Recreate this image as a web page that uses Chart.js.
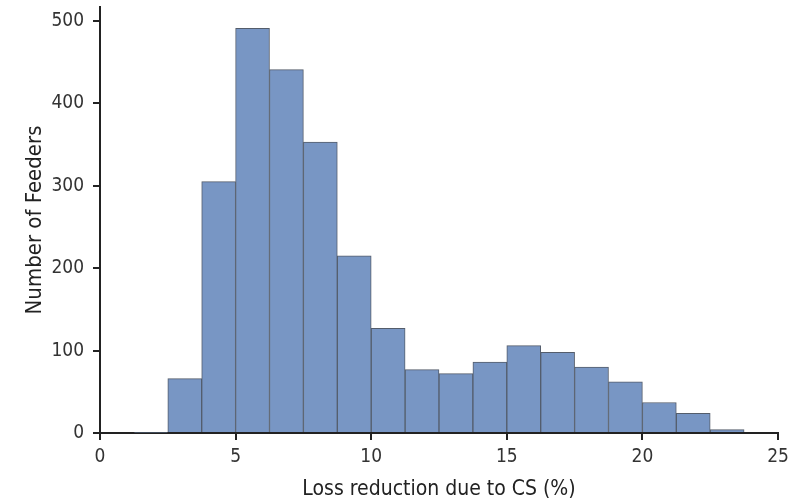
<!DOCTYPE html>
<html>
<head>
<meta charset="utf-8">
<script src="https://cdn.jsdelivr.net/npm/chart.js@4"></script>
<style>
  html, body { margin: 0; padding: 0; background: #fff; }
  #wrap { width: 797px; height: 504px; }
</style>
</head>
<body>
<div id="wrap"><canvas id="grafico"></canvas></div>
<script>
// bin centers (width 1.25) and counts
const binCenters = [1.875, 3.125, 4.375, 5.625, 6.875, 8.125, 9.375, 10.625, 11.875,
    13.125, 14.375, 15.625, 16.875, 18.125, 19.375, 20.625, 21.875, 23.125];
const counts = [1, 66, 305, 491, 441, 353, 215, 127, 77, 72, 86, 106, 98, 80, 62, 37, 24, 4];
const xTicks = [0, 5, 10, 15, 20, 25];
const yTicks = [0, 100, 200, 300, 400, 500];

const fuente = "'DejaVu Sans Condensed', 'DejaVu Sans', sans-serif";

document.addEventListener("DOMContentLoaded", () => {
    const ctx = document.getElementById("grafico").getContext("2d");

    new Chart(ctx, {
        type: "bar",
        data: {
            datasets: [{
                label: "Feeders",
                data: binCenters.map((c, i) => ({ x: c, y: counts[i] })),
                backgroundColor: "#7896c4",
                borderColor: "#545d6b",
                borderWidth: 1,
                barPercentage: 1,
                categoryPercentage: 1
            }]
        },
        options: {
            responsive: true,
            maintainAspectRatio: false,
            animation: false,
            layout: { padding: { top: 7, right: 19, left: 22, bottom: 0 } },
            plugins: {
                legend: { display: false },
                tooltip: { enabled: false }
            },
            scales: {
                x: {
                    type: "linear",
                    min: 0,
                    max: 25,
                    offset: false,
                    afterBuildTicks: s => { s.ticks = xTicks.map(v => ({ value: v })); },
                    afterFit: s => { s.height = 71; },
                    grid: { offset: false, drawOnChartArea: false, drawTicks: true, tickLength: 7, tickColor: "#222", lineWidth: 2 },
                    border: { display: true, color: "#222", width: 2 },
                    ticks: { color: "#333", font: { family: fuente, size: 19 }, padding: 6, maxRotation: 0 },
                    title: { display: true, text: "Loss reduction due to CS (%)", color: "#222",
                        font: { family: fuente, size: 21 }, padding: { top: 0, bottom: 2 } }
                },
                y: {
                    min: 0,
                    max: 517,
                    afterBuildTicks: s => { s.ticks = yTicks.map(v => ({ value: v })); },
                    afterFit: s => { s.width = 78; s.paddingTop = 0; s.paddingBottom = 0; },
                    grid: { drawOnChartArea: false, drawTicks: true, tickLength: 7, tickColor: "#222", lineWidth: 2 },
                    border: { display: true, color: "#222", width: 2 },
                    ticks: { color: "#333", font: { family: fuente, size: 19 }, padding: 9 },
                    title: { display: true, text: "Number of Feeders", color: "#222",
                        font: { family: fuente, size: 22 }, padding: { top: 0, bottom: 0 } }
                }
            }
        }
    });
});
</script>
</body>
</html>
